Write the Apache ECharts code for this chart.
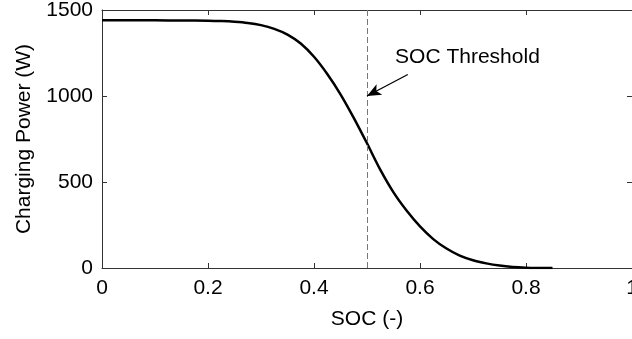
<!DOCTYPE html>
<html>
<head>
<meta charset="utf-8">
<script src="https://cdn.jsdelivr.net/npm/echarts@6/dist/echarts.min.js"></script>
<style>
  html, body { margin: 0; padding: 0; background: #fff; }
  #chart { width: 632px; height: 339px; }
</style>
</head>
<body>
<div id="chart"></div>
<script>
// State of charge samples and the charging power drawn at each one
const socValues = [0, 0.05, 0.1, 0.15, 0.2, 0.225, 0.25, 0.275, 0.3, 0.325,
  0.35, 0.375, 0.4, 0.425, 0.45, 0.475, 0.5, 0.525, 0.55, 0.575,
  0.6, 0.625, 0.65, 0.675, 0.7, 0.725, 0.75, 0.775, 0.8, 0.825, 0.85];
const powerValues = [1440, 1440, 1440, 1439, 1438, 1436, 1432, 1425, 1412, 1390,
  1357, 1305, 1228, 1128, 1010, 873, 725, 572, 440, 333,
  242, 168, 113, 72, 45, 27, 14, 6, 2, 0.5, 0];

const xTicks = [0, 0.2, 0.4, 0.6, 0.8, 1];
const yTicks = [0, 500, 1000, 1500];

// Threshold marker and its annotation
const socThreshold = 0.5;
const thresholdLabel = 'SOC Threshold';
const labelAnchor = [0.553, 1228];
const arrowFrom = [0.577, 1125];
const arrowTo = [0.5, 1000];

const FONT = '"Liberation Sans", Arial, sans-serif';
const FONT_SIZE = 21;
const AXIS_COLOR = '#333';

const chart = echarts.init(document.getElementById('chart'), null, { renderer: 'canvas' });

const frameAxis = {
  axisLine: { show: true, onZero: false, lineStyle: { color: AXIS_COLOR, width: 1 } },
  axisTick: { show: true, inside: true, length: 5, lineStyle: { color: AXIS_COLOR } },
  splitLine: { show: false }
};

chart.setOption({
  animation: false,
  backgroundColor: '#fff',
  textStyle: { fontFamily: FONT },
  grid: { left: 102, top: 10, width: 530, height: 258, outerBoundsMode: 'none', containLabel: false },
  xAxis: [
    Object.assign({
      type: 'value', min: 0, max: 1, interval: 0.2, position: 'bottom',
      name: 'SOC (-)', nameLocation: 'middle', nameGap: 41,
      nameTextStyle: { fontSize: FONT_SIZE, color: '#000', fontFamily: FONT },
      axisLabel: {
        fontSize: FONT_SIZE, color: '#000', margin: 10, fontFamily: FONT,
        showMaxLabel: true,
        formatter: v => xTicks.includes(+v.toFixed(1)) ? String(+v.toFixed(1)) : ''
      }
    }, frameAxis),
    Object.assign({
      type: 'value', min: 0, max: 1, interval: 0.2, position: 'top',
      axisLabel: { show: false }
    }, frameAxis)
  ],
  yAxis: [
    Object.assign({
      type: 'value', min: 0, max: 1500, interval: 500, position: 'left',
      name: 'Charging Power (W)', nameLocation: 'middle', nameGap: 67,
      nameTextStyle: { fontSize: FONT_SIZE, color: '#000', fontFamily: FONT },
      axisLabel: {
        fontSize: FONT_SIZE, color: '#000', margin: 9, fontFamily: FONT,
        formatter: v => yTicks.includes(v) ? String(v) : ''
      }
    }, frameAxis),
    Object.assign({
      type: 'value', min: 0, max: 1500, interval: 500, position: 'right',
      axisLabel: { show: false }
    }, frameAxis)
  ],
  series: [
    {
      type: 'line',
      data: socValues.map((s, i) => [s, powerValues[i]]),
      smooth: 0.3,
      showSymbol: false,
      lineStyle: { color: '#000', width: 2.5 },
      z: 3,
      markLine: {
        silent: true,
        animation: false,
        label: { show: false },
        data: [
          [
            { coord: [socThreshold, 0], symbol: 'none',
              lineStyle: { color: '#777', width: 1, type: [6, 3] } },
            { coord: [socThreshold, 1500], symbol: 'none' }
          ],
          [
            { coord: arrowFrom, symbol: 'none',
              lineStyle: { color: '#000', width: 1.3, type: 'solid' } },
            { coord: arrowTo, symbol: 'arrow', symbolSize: [9, 14] }
          ]
        ]
      },
      markPoint: {
        silent: true,
        symbol: 'circle',
        symbolSize: 0,
        data: [{
          coord: labelAnchor,
          label: {
            show: true, position: 'right', distance: 0,
            formatter: thresholdLabel,
            fontSize: FONT_SIZE, color: '#000', fontFamily: FONT
          }
        }]
      }
    }
  ]
});
</script>
</body>
</html>
